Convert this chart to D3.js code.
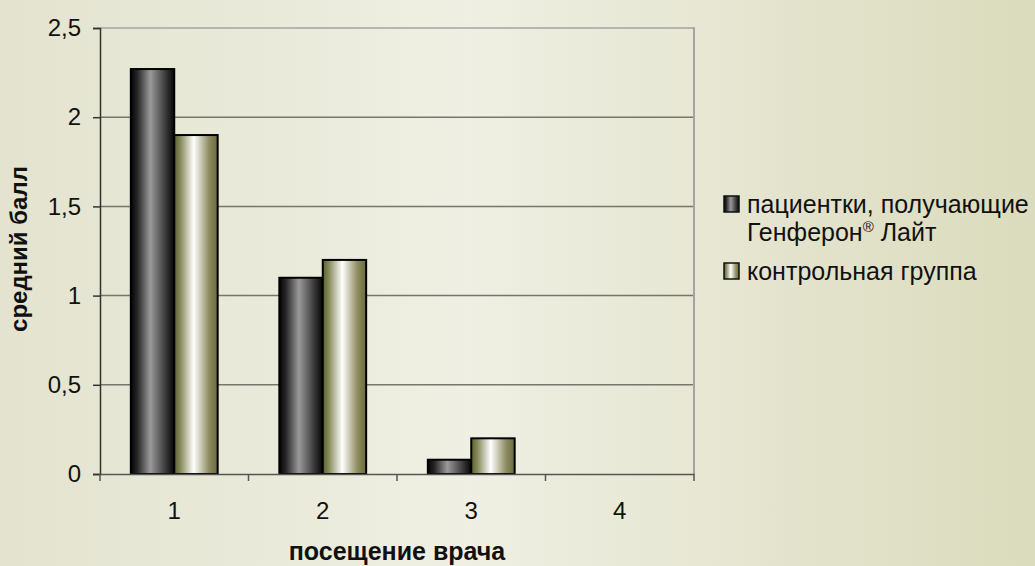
<!DOCTYPE html>
<html>
<head>
<meta charset="utf-8">
<script src="https://cdn.jsdelivr.net/npm/d3@7"></script>
<style>
  body { margin: 0; }
  svg { display: block; font-family: Arial, "Liberation Sans", sans-serif; }
</style>
</head>
<body>
<div id="chart"></div>
<script>
// data
const visits = ['1', '2', '3', '4'];
const seriesNames = ['пациентки, получающие Генферон® Лайт', 'контрольная группа'];
const treated = [2.27, 1.1, 0.08, 0];
const control = [1.9, 1.2, 0.2, 0];
const yTicks = [0, 0.5, 1, 1.5, 2, 2.5];

const W = 1035, H = 566;
const plotLeft = 100, plotRight = 694, plotTop = 28, plotBottom = 474;

const svg = d3.select('#chart').append('svg')
  .attr('width', W)
  .attr('height', H);

const defs = svg.append('defs');

// page background
const bg = defs.append('linearGradient').attr('id', 'bg');
bg.append('stop').attr('offset', '0%').attr('stop-color', '#e3e3cf');
bg.append('stop').attr('offset', '45%').attr('stop-color', '#efefe3');
bg.append('stop').attr('offset', '100%').attr('stop-color', '#dbdbbd');

// bar gradients
const darkG = defs.append('linearGradient').attr('id', 'dark');
[['0%', '#030303'], ['15%', '#262626'], ['45%', '#9a9a9a'], ['80%', '#3a3a3a'], ['100%', '#060606']]
  .forEach(s => darkG.append('stop').attr('offset', s[0]).attr('stop-color', s[1]));
const lightG = defs.append('linearGradient').attr('id', 'light');
[['0%', '#59602a'], ['15%', '#8a8c60'], ['45%', '#ffffff'], ['80%', '#8e8c62'], ['100%', '#6a6a3a']]
  .forEach(s => lightG.append('stop').attr('offset', s[0]).attr('stop-color', s[1]));
const fills = ['url(#dark)', 'url(#light)'];

svg.append('rect').attr('width', W).attr('height', H).attr('fill', 'url(#bg)');

const x0 = d3.scaleBand().domain(visits).range([plotLeft, plotRight]).padding(0);
const x1 = d3.scaleBand().domain([0, 1]).range([0, x0.bandwidth()]).paddingInner(0).paddingOuter(0.71);
const y = d3.scaleLinear().domain([0, 2.5]).range([plotBottom, plotTop]);

const fmt = d => String(d).replace('.', ',');

// gridlines
svg.append('g')
  .selectAll('line')
  .data(yTicks.filter(d => d > 0))
  .join('line')
  .attr('x1', plotLeft).attr('x2', plotRight)
  .attr('y1', d => y(d)).attr('y2', d => y(d))
  .attr('stroke', d => d === 2.5 ? '#a3a3a3' : '#76766c')
  .attr('stroke-width', 1.5);

// right border of plot area
svg.append('line')
  .attr('x1', plotRight).attr('x2', plotRight)
  .attr('y1', plotTop - 0.75).attr('y2', plotBottom)
  .attr('stroke', '#a3a3a3').attr('stroke-width', 2);

// bars
const rows = visits.map((v, i) => ({ visit: v, values: [treated[i], control[i]] }));
svg.append('g')
  .selectAll('g')
  .data(rows)
  .join('g')
  .attr('transform', d => `translate(${x0(d.visit)},0)`)
  .selectAll('rect')
  .data(d => d.values.map((v, k) => ({ k, v })).filter(e => e.v > 0))
  .join('rect')
  .attr('x', d => x1(d.k))
  .attr('width', x1.bandwidth())
  .attr('y', d => y(d.v))
  .attr('height', d => y(0) - y(d.v))
  .attr('fill', d => fills[d.k])
  .attr('stroke', '#000')
  .attr('stroke-width', 2);

// y axis
const yAxis = svg.append('g')
  .attr('transform', `translate(${plotLeft},0)`)
  .call(d3.axisLeft(y).tickValues(yTicks).tickFormat(fmt).tickSize(7).tickPadding(12));
yAxis.select('.domain').attr('stroke', '#333').attr('stroke-width', 1.5);
yAxis.selectAll('.tick line').attr('stroke', '#333').attr('stroke-width', 1.5);
yAxis.selectAll('text').attr('font-size', 24).attr('fill', '#111');

// x axis: labels centred, ticks on category boundaries
const xAxis = svg.append('g')
  .attr('transform', `translate(0,${plotBottom})`)
  .call(d3.axisBottom(x0).tickSize(0).tickPadding(28));
xAxis.select('.domain').attr('stroke', '#555').attr('stroke-width', 1.5);
xAxis.selectAll('text').attr('font-size', 24).attr('fill', '#111');
svg.append('g')
  .selectAll('line')
  .data(visits.concat(['end']))
  .join('line')
  .attr('x1', d => d === 'end' ? plotRight : x0(d))
  .attr('x2', d => d === 'end' ? plotRight : x0(d))
  .attr('y1', plotBottom).attr('y2', plotBottom + 7)
  .attr('stroke', '#555').attr('stroke-width', 1.5);

// axis titles
svg.append('text')
  .attr('x', (plotLeft + plotRight) / 2)
  .attr('y', 560)
  .attr('text-anchor', 'middle')
  .attr('font-size', 25)
  .attr('font-weight', 'bold')
  .attr('fill', '#111')
  .text('посещение врача');

svg.append('text')
  .attr('transform', 'translate(27,249) rotate(-90)')
  .attr('text-anchor', 'middle')
  .attr('font-size', 24)
  .attr('font-weight', 'bold')
  .attr('fill', '#111')
  .text('средний балл');

// legend
const legend = svg.append('g').attr('transform', 'translate(724,0)');
const legendItems = [
  { lines: ['пациентки, получающие', 'Генферон® Лайт'], y: 204 },
  { lines: ['контрольная группа'], y: 271 }
];
legendItems.forEach((item, k) => {
  legend.append('rect')
    .attr('x', 0).attr('y', item.y - 8)
    .attr('width', 15).attr('height', 16)
    .attr('fill', fills[k])
    .attr('stroke', '#111').attr('stroke-width', 1.5);
  const t = legend.append('text')
    .attr('x', 23).attr('y', item.y + 9)
    .attr('font-size', 25)
    .attr('fill', '#111');
  item.lines.forEach((ln, j) => {
    const ts = t.append('tspan').attr('x', 23).attr('dy', j === 0 ? 0 : 28);
    if (ln.includes('®')) {
      const parts = ln.split('®');
      ts.append('tspan').text(parts[0]);
      ts.append('tspan').attr('font-size', 15).attr('dy', -9).text('®');
      ts.append('tspan').attr('dy', 9).text(parts[1]);
    } else {
      ts.text(ln);
    }
  });
});
</script>
</body>
</html>
